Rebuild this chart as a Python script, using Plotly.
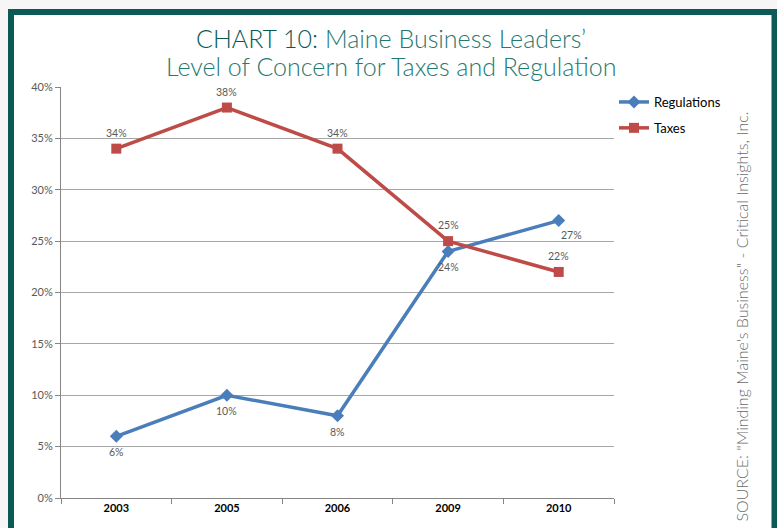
import plotly.graph_objects as go

years = ["2003", "2005", "2006", "2009", "2010"]
regulations = [0.06, 0.10, 0.08, 0.24, 0.27]
taxes = [0.34, 0.38, 0.34, 0.25, 0.22]
y_ticks = [0, 0.05, 0.10, 0.15, 0.20, 0.25, 0.30, 0.35, 0.40]

W, H = 777, 528
L, R, T, B = 61, 163, 87, 30
pw, ph = W - L - R, H - T - B


def px_x(v):
    return (v - L) / pw


def px_y(v):
    return (H - B - v) / ph


teal = "#0b5a55"
label_font = dict(family="Lato", size=10.5, color="#595959")
fig = go.Figure()

fig.add_trace(go.Scatter(
    x=years, y=regulations, name="Regulations", mode="lines+markers",
    line=dict(color="#4a7ebb", width=3.5),
    marker=dict(symbol="diamond", size=10, color="#4a7ebb"),
    legendgroup="r",
))
fig.add_trace(go.Scatter(
    x=years, y=taxes, name="Taxes", mode="lines+markers",
    line=dict(color="#be4b48", width=3.5),
    marker=dict(symbol="square", size=10, color="#be4b48"),
    legendgroup="t",
))

# data labels: taxes above, regulations below (last one below-right)
# category axis -> annotations placed by category index
for i, v in enumerate(taxes):
    fig.add_annotation(x=i, y=v, text=f"{v:.0%}", showarrow=False,
                       yshift=16, font=label_font)
for i, v in enumerate(regulations):
    last = i == len(years) - 1
    fig.add_annotation(x=i, y=v, text=f"{v:.0%}", showarrow=False,
                       yshift=-14 if last else -16, xshift=13 if last else 0,
                       font=label_font)

# frame around the chart
fig.add_shape(type="rect", xref="paper", yref="paper", layer="below",
              x0=px_x(11), x1=px_x(774.5), y0=px_y(545), y1=px_y(12),
              line=dict(color=teal, width=6), fillcolor="white")

fig.add_annotation(
    xref="paper", yref="paper", x=px_x(391), y=px_y(38), yanchor="middle",
    showarrow=False,
    text=f"<span style='color:{teal}'>CHART 10:</span> Maine Business Leaders’",
    font=dict(family="Lato", size=25, color="#1f7a72", weight=300),
)
fig.add_annotation(
    xref="paper", yref="paper", x=px_x(391), y=px_y(66), yanchor="middle",
    showarrow=False,
    text="Level of Concern for Taxes and Regulation",
    font=dict(family="Lato", size=25, color="#1f7a72", weight=300),
)
fig.add_annotation(
    xref="paper", yref="paper", x=px_x(752), y=px_y(317), textangle=-90,
    showarrow=False, text="SOURCE: \"Minding Maine's Business\" - Critical Insights, Inc.",
    font=dict(family="Lato", size=16, color="#6b6b6b", weight=300),
)

fig.update_layout(
    width=W, height=H,
    margin=dict(l=L, r=R, t=T, b=B),
    paper_bgcolor="#f6f6f6", plot_bgcolor="white",
    font=dict(family="Lato", color="#595959"),
    showlegend=True,
    legend=dict(x=1.0, y=1.0, xanchor="left", yanchor="top",
                font=dict(size=13, color="black"), bgcolor="rgba(0,0,0,0)",
                traceorder="grouped", tracegroupgap=6, itemwidth=30),
    xaxis=dict(type="category", range=[-0.5, 4.5], showgrid=False, showline=True,
               linecolor="#868686", ticks="outside", tickson="boundaries", ticklen=5,
               tickcolor="#868686",
               tickfont=dict(size=11, color="black", weight="bold")),
    yaxis=dict(range=[0, 0.40], tickvals=y_ticks, tickformat=".0%",
               showgrid=True, gridcolor="#a6a6a6", gridwidth=1,
               showline=True, linecolor="#868686", ticks="outside", ticklen=5,
               tickcolor="#868686", zeroline=False,
               tickfont=dict(size=11, color="#595959")),
)

fig.write_html("out.html", config={"displayModeBar": False},
               post_script="document.body.style.margin='0';")
